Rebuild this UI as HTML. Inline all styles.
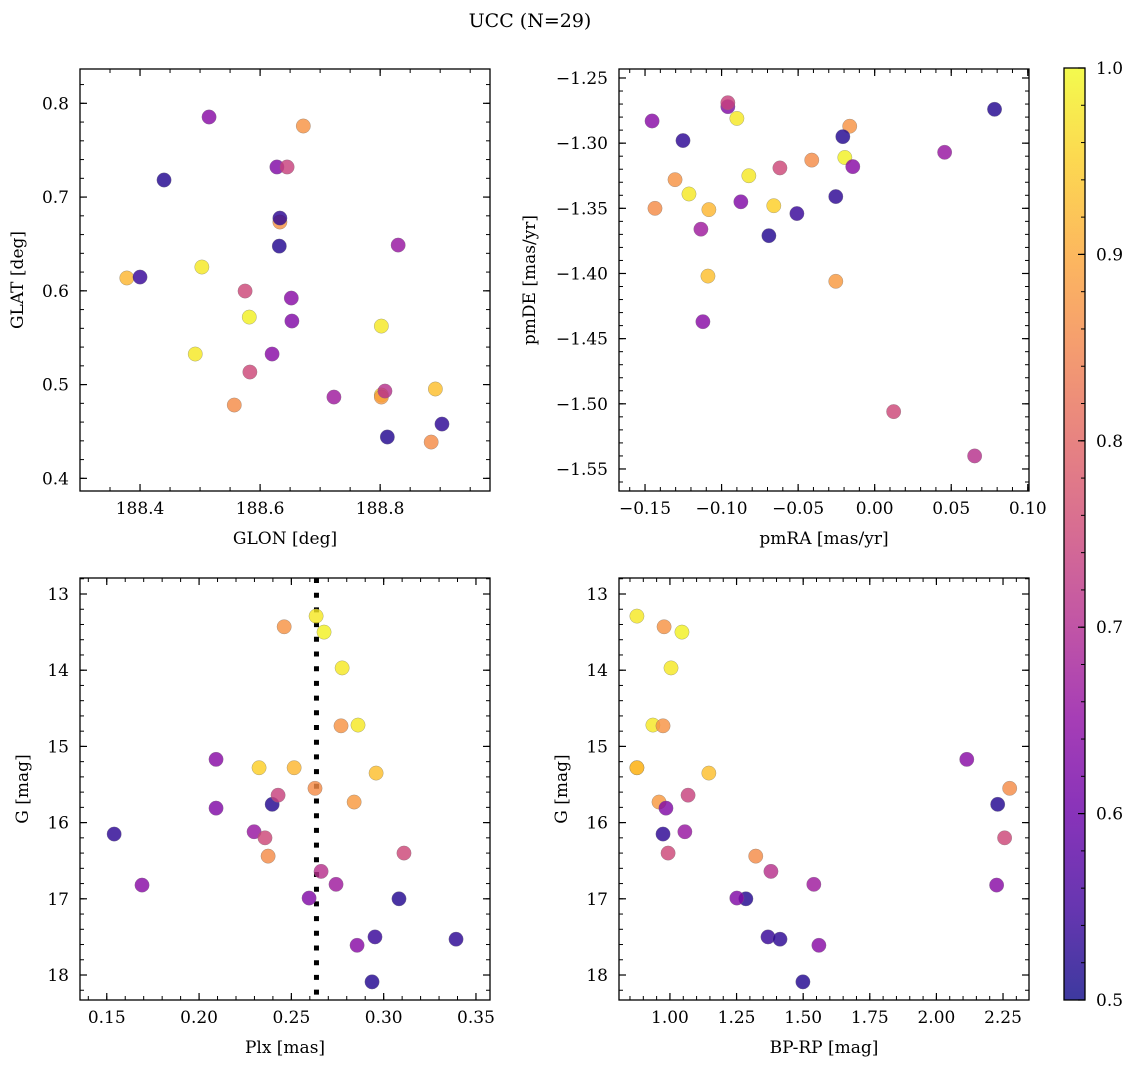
<!DOCTYPE html>
<html><head><meta charset="utf-8">
<style>
html,body{margin:0;padding:0;background:#fff;}
svg{display:block;font-family:"DejaVu Serif","Liberation Serif",serif;}
</style></head>
<body>
<svg id="fig" width="1136" height="1068" viewBox="0 0 1136 1068" xmlns="http://www.w3.org/2000/svg">
<rect width="1136" height="1068" fill="#fff"/>
<text x="530" y="27" font-size="19" text-anchor="middle">UCC (N=29)</text>
<defs>
<linearGradient id="plasma" x1="0" y1="1" x2="0" y2="0">
<stop offset="0" stop-color="#0d0887"/><stop offset="0.1" stop-color="#41049d"/><stop offset="0.2" stop-color="#6a00a8"/><stop offset="0.3" stop-color="#8f0da4"/><stop offset="0.4" stop-color="#b12a90"/><stop offset="0.5" stop-color="#cc4778"/><stop offset="0.6" stop-color="#e16462"/><stop offset="0.7" stop-color="#f2844b"/><stop offset="0.8" stop-color="#fca636"/><stop offset="0.9" stop-color="#fcce25"/><stop offset="1" stop-color="#f0f921"/>
</linearGradient>
</defs>
<g id="layer"></g>
</svg>
<script>
// data (one entry per cluster member)
const glon = [188.503,188.582,188.802,188.492,188.802,188.672,188.633,188.557,188.802,188.885,188.378,188.892,188.440,188.633,188.632,188.400,188.903,188.812,188.515,188.628,188.830,188.652,188.653,188.620,188.723,188.645,188.575,188.583,188.808];
const glat = [0.6254,0.5720,0.5624,0.5326,0.4889,0.7758,0.6734,0.4782,0.4867,0.4387,0.6137,0.4953,0.7182,0.6776,0.6477,0.6147,0.4579,0.4441,0.7854,0.7321,0.6488,0.5923,0.5678,0.5326,0.4867,0.7321,0.5998,0.5134,0.4931];
const pmra = [-0.0900,-0.0195,-0.0822,-0.1213,-0.0659,-0.0163,-0.1304,-0.1435,-0.0254,-0.0411,-0.1083,-0.1089,0.0783,-0.1252,-0.0208,-0.0508,-0.0254,-0.0691,-0.1454,-0.0959,0.0457,-0.0143,-0.0874,-0.1122,-0.1135,-0.0959,-0.0619,0.0124,0.0653];
const pmde = [-1.281,-1.311,-1.325,-1.339,-1.348,-1.287,-1.328,-1.350,-1.406,-1.313,-1.351,-1.402,-1.274,-1.298,-1.295,-1.354,-1.341,-1.371,-1.283,-1.272,-1.307,-1.318,-1.345,-1.437,-1.366,-1.269,-1.319,-1.506,-1.540];
const plx = [0.2634,0.2677,0.2775,0.2861,0.2325,0.2461,0.2769,0.2628,0.2840,0.2374,0.2515,0.2959,0.2396,0.1540,0.3083,0.2953,0.3392,0.2937,0.2092,0.2092,0.2298,0.1691,0.2596,0.2856,0.2742,0.2428,0.2357,0.3110,0.2661];
const gmag = [13.29,13.50,13.97,14.72,15.28,13.43,14.73,15.55,15.73,16.44,15.28,15.35,15.76,16.15,17.00,17.50,17.53,18.09,15.17,15.81,16.12,16.82,16.99,17.61,16.81,15.64,16.20,16.40,16.64];
const bprp = [0.876,1.045,1.004,0.936,0.876,0.978,0.974,2.275,0.959,1.322,0.876,1.146,2.230,0.974,1.285,1.368,1.413,1.499,2.114,0.985,1.056,2.226,1.251,1.559,1.540,1.068,2.256,0.993,1.379];
const prob = [0.98,0.99,0.98,0.98,0.95,0.87,0.87,0.86,0.88,0.86,0.92,0.93,0.52,0.53,0.52,0.54,0.53,0.52,0.64,0.63,0.66,0.64,0.63,0.64,0.67,0.74,0.75,0.75,0.71];
const plxLine = [0.2636];
const cbTicks = ["0.5","0.6","0.7","0.8","0.9","1.0"];

const NS="http://www.w3.org/2000/svg";
const layer=document.getElementById('layer');
function mk(tag,attrs,parent){const e=document.createElementNS(NS,tag);for(const k in attrs)e.setAttribute(k,attrs[k]);(parent||layer).appendChild(e);return e;}
const stops=[[0,[13,8,135]],[0.1,[65,4,157]],[0.2,[106,0,168]],[0.3,[143,13,164]],[0.4,[177,42,144]],[0.5,[204,71,120]],[0.6,[225,100,98]],[0.7,[242,132,75]],[0.8,[252,166,54]],[0.9,[252,206,37]],[1,[240,249,33]]];
function cmap(p){let t=(p-0.5)/0.5;t=Math.max(0,Math.min(1,t));for(let i=1;i<stops.length;i++){if(t<=stops[i][0]){const a=stops[i-1],b=stops[i];const f=(t-a[0])/(b[0]-a[0]);const c=a[1].map((v,j)=>Math.round(v+(b[1][j]-v)*f));return `rgb(${c[0]},${c[1]},${c[2]})`;}}return 'rgb(240,249,33)';}
function fmt(v,d){return (v<0?'\u2212':'')+Math.abs(v).toFixed(d);}

function panel(cfg){
  const {name,L,T,R,B,xmin,xmax,ymin,ymax,inv,xs,ys,xmaj,xmin0,ymaj,ymin0,xd,yd,xlab,ylab}=cfg;
  const g=mk('g',{});
  
  
  const sx=v=>L+(v-xmin)/(xmax-xmin)*(R-L);
  const sy=v=>inv? T+(v-ymin)/(ymax-ymin)*(B-T) : B-(v-ymin)/(ymax-ymin)*(B-T);
  const ticks=(a,b,st)=>{const o=[];const n=Math.round((b-a)/st);for(let i=0;i<=n;i++)o.push(+(a+i*st).toFixed(6));return o;};
  ticks(xmin0[0],xmin0[1],xmin0[2]).forEach(v=>{const x=sx(v);if(x<L||x>R)return;mk('line',{x1:x,y1:B,x2:x,y2:B-4,stroke:'#000','stroke-width':1},g);mk('line',{x1:x,y1:T,x2:x,y2:T+4,stroke:'#000','stroke-width':1},g);});
  ticks(ymin0[0],ymin0[1],ymin0[2]).forEach(v=>{const y=sy(v);if(y<T||y>B)return;mk('line',{x1:L,y1:y,x2:L+4,y2:y,stroke:'#000','stroke-width':1},g);mk('line',{x1:R,y1:y,x2:R-4,y2:y,stroke:'#000','stroke-width':1},g);});
  xmaj.forEach(v=>{const x=sx(v);mk('line',{x1:x,y1:B,x2:x,y2:B-7,stroke:'#000','stroke-width':1.2},g);mk('line',{x1:x,y1:T,x2:x,y2:T+7,stroke:'#000','stroke-width':1.2},g);
    const t=mk('text',{x:x,y:B+23,'font-size':17,'text-anchor':'middle'},g);t.textContent=fmt(v,xd);});
  ymaj.forEach(v=>{const y=sy(v);mk('line',{x1:L,y1:y,x2:L+7,y2:y,stroke:'#000','stroke-width':1.2},g);mk('line',{x1:R,y1:y,x2:R-7,y2:y,stroke:'#000','stroke-width':1.2},g);
    const t=mk('text',{x:L-11,y:y+6,'font-size':17,'text-anchor':'end'},g);t.textContent=fmt(v,yd);});
  if(cfg.vline){cfg.vline.forEach(v=>{const l=mk('line',{x1:sx(v),y1:T,x2:sx(v),y2:B,stroke:'#000','stroke-width':5,'stroke-dasharray':'5 9.7'},g);});}
  for(let i=0;i<xs.length;i++){
    const c=mk('circle',{cx:sx(xs[i]),cy:sy(ys[i]),r:7.2,fill:cmap(prob[i]),'fill-opacity':0.82,stroke:'#777','stroke-width':0.5,'stroke-opacity':0.6},g);
    
    
  }
  const fr=mk('rect',{x:L,y:T,width:R-L,height:B-T,fill:'none',stroke:'#000','stroke-width':1.3},g);
  
  const xl=mk('text',{x:(L+R)/2,y:B+53,'font-size':17,'text-anchor':'middle'},g);xl.textContent=xlab;
  
  const ylx=cfg.ylx;const yc=(T+B)/2;
  const yl=mk('text',{x:ylx,y:yc,'font-size':17,'text-anchor':'middle',transform:`rotate(-90 ${ylx} ${yc})`},g);yl.textContent=ylab;
  
}

panel({name:'glon-glat-panel',L:80,T:69,R:490,B:491,xmin:188.3,xmax:188.983,ymin:0.3865,ymax:0.8366,xs:glon,ys:glat,
  xmaj:[188.4,188.6,188.8],xmin0:[188.3,189.0,0.05],ymaj:[0.4,0.5,0.6,0.7,0.8],ymin0:[0.38,0.84,0.02],xd:1,yd:1,xlab:'GLON [deg]',ylab:'GLAT [deg]',ylx:23});
panel({name:'proper-motion-panel',L:619,T:69,R:1029,B:491,xmin:-0.1670,xmax:0.1008,ymin:-1.5669,ymax:-1.2431,xs:pmra,ys:pmde,
  xmaj:[-0.15,-0.10,-0.05,0.00,0.05,0.10],xmin0:[-0.16,0.10,0.01],ymaj:[-1.55,-1.50,-1.45,-1.40,-1.35,-1.30,-1.25],ymin0:[-1.56,-1.25,0.01],xd:2,yd:2,xlab:'pmRA [mas/yr]',ylab:'pmDE [mas/yr]',ylx:535});
panel({name:'plx-g-panel',L:80,T:578,R:490,B:1000,xmin:0.1355,xmax:0.3576,ymin:12.79,ymax:18.328,inv:true,xs:plx,ys:gmag,
  xmaj:[0.15,0.20,0.25,0.30,0.35],xmin0:[0.14,0.36,0.01],ymaj:[13,14,15,16,17,18],ymin0:[12.8,18.2,0.2],xd:2,yd:0,xlab:'Plx [mas]',ylab:'G [mag]',ylx:28,vline:plxLine});
panel({name:'cmd-panel',L:619,T:578,R:1029,B:1000,xmin:0.8088,xmax:2.3475,ymin:12.79,ymax:18.328,inv:true,xs:bprp,ys:gmag,
  xmaj:[1.00,1.25,1.50,1.75,2.00,2.25],xmin0:[0.85,2.35,0.05],ymaj:[13,14,15,16,17,18],ymin0:[12.8,18.2,0.2],xd:2,yd:0,xlab:'BP-RP [mag]',ylab:'G [mag]',ylx:567});

const cb=mk('g',{});


mk('rect',{x:1064,y:68,width:21,height:932,fill:'url(#plasma)','fill-opacity':0.8},cb);
mk('rect',{x:1064,y:68,width:21,height:932,fill:'none',stroke:'#000','stroke-width':1.3},cb);
const cy=v=>1000-(v-0.5)/0.5*932;
for(let i=0;i<=25;i++){const v=0.5+i*0.02;const y=cy(v);mk('line',{x1:1085,y1:y,x2:1081,y2:y,stroke:'#000','stroke-width':1},cb);}
cbTicks.forEach(s=>{const y=cy(parseFloat(s));mk('line',{x1:1085,y1:y,x2:1078,y2:y,stroke:'#000','stroke-width':1.2},cb);
  const t=mk('text',{x:1096,y:y+6,'font-size':17},cb);t.textContent=s;});
</script>
</body></html>
